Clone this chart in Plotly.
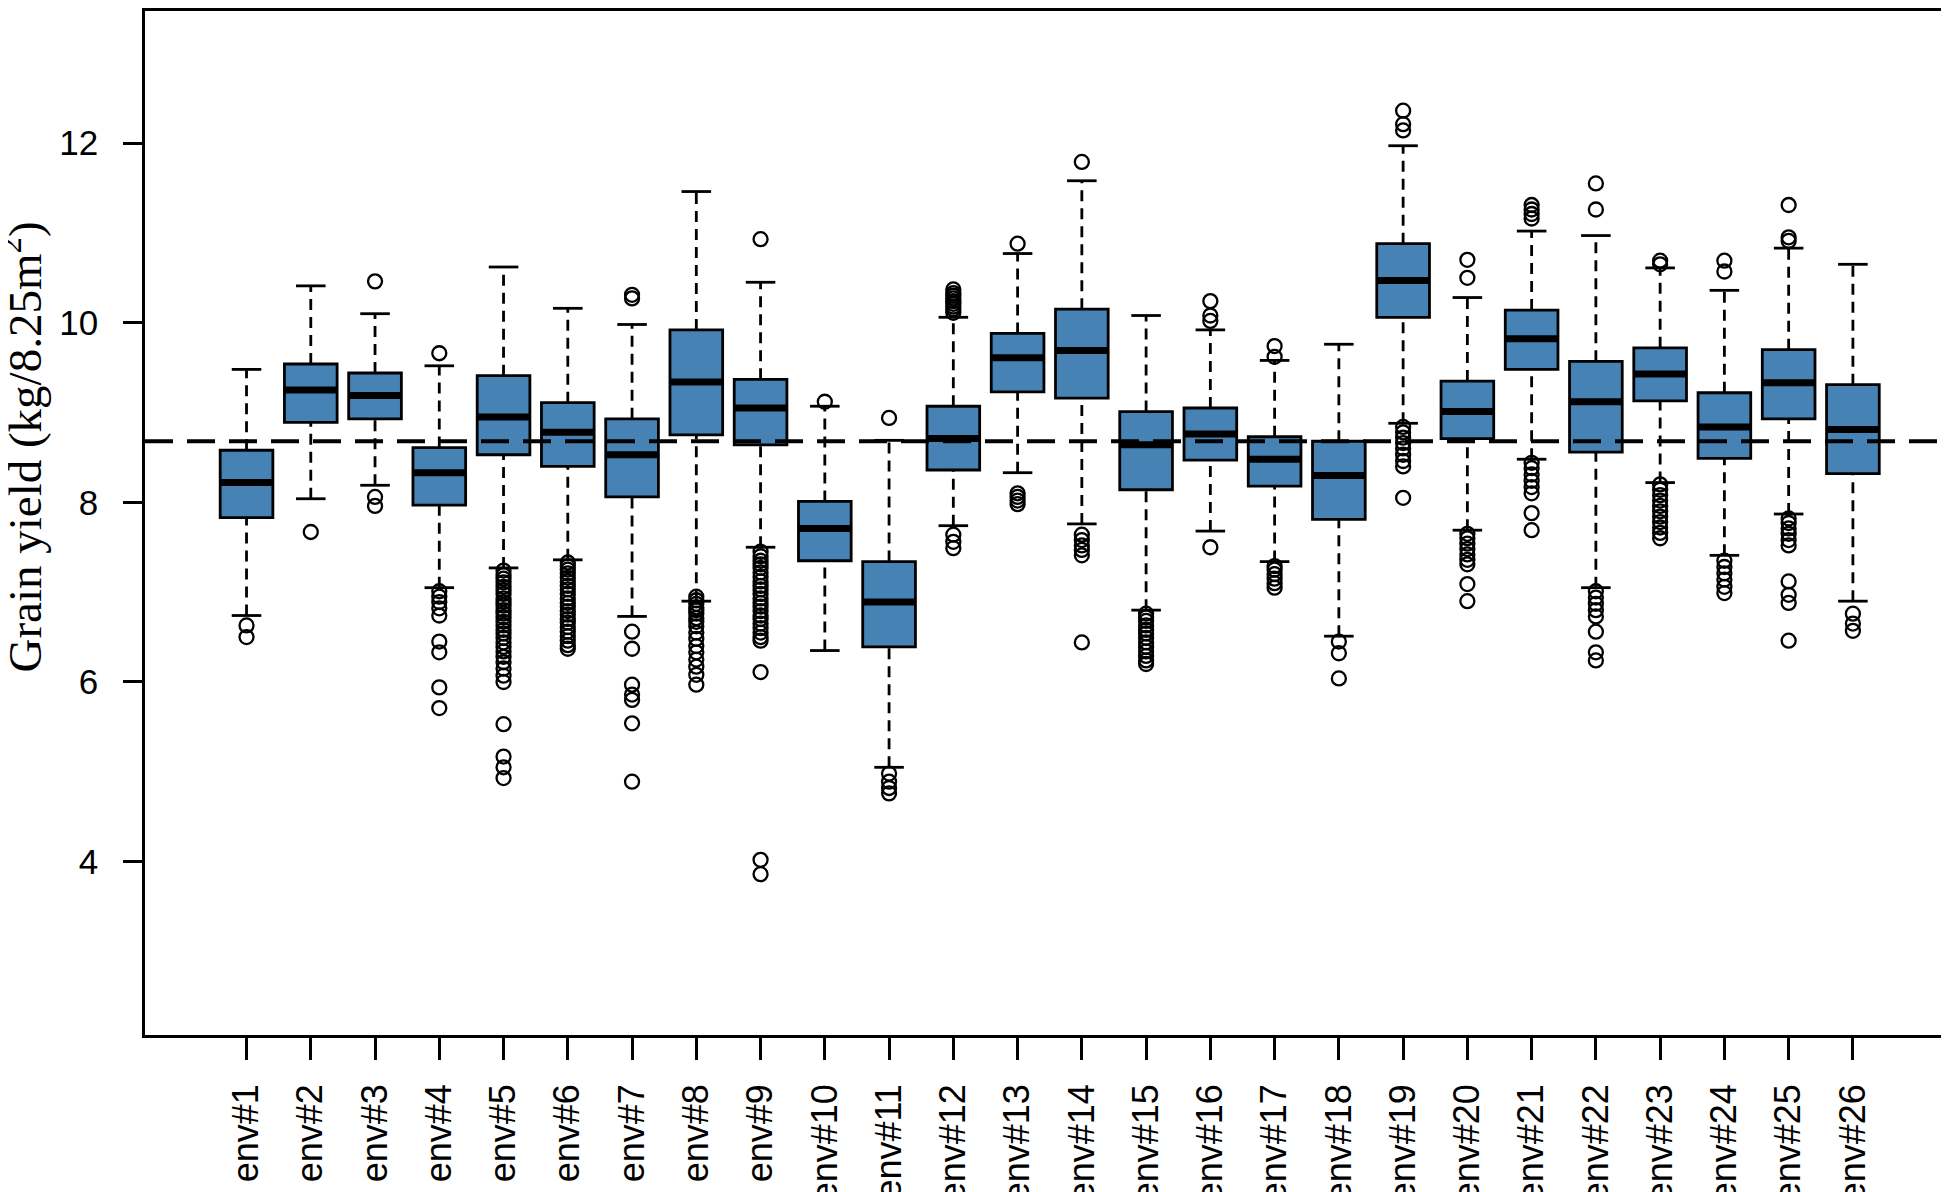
import plotly.graph_objects as go

# environments and box statistics (kg/8.25m2)
envs = [f"env#{i}" for i in range(1, 27)]
pos = list(range(1, 27))

q1 = [7.83, 8.89, 8.93, 7.97, 8.53, 8.40, 8.06, 8.75, 8.64, 7.35, 6.39, 8.36, 9.23,
      9.16, 8.14, 8.47, 8.18, 7.81, 10.06, 8.71, 9.48, 8.56, 9.13, 8.49, 8.93, 8.32]
med = [8.22, 9.25, 9.19, 8.33, 8.95, 8.78, 8.53, 9.34, 9.05, 7.71, 6.89, 8.71, 9.61,
       9.69, 8.64, 8.76, 8.48, 8.30, 10.47, 9.01, 9.82, 9.12, 9.43, 8.84, 9.33, 8.81]
q3 = [8.58, 9.54, 9.44, 8.61, 9.41, 9.11, 8.93, 9.92, 9.37, 8.01, 7.34, 9.07, 9.88,
      10.15, 9.01, 9.05, 8.73, 8.68, 10.88, 9.35, 10.14, 9.57, 9.72, 9.22, 9.70, 9.31]
lo = [6.74, 8.04, 8.19, 7.05, 7.27, 7.36, 6.73, 6.90, 7.50, 6.35, 5.05, 7.74, 8.33,
      7.76, 6.80, 7.68, 7.34, 6.51, 8.88, 7.69, 8.48, 7.05, 8.22, 7.41, 7.87, 6.90]
hi = [9.48, 10.41, 10.10, 9.52, 10.62, 10.16, 9.98, 11.46, 10.45, 9.07, 8.69, 10.06, 10.77,
      11.58, 10.08, 9.92, 9.58, 9.76, 11.97, 10.28, 11.02, 10.97, 10.61, 10.36, 10.83, 10.65]

outliers = [
    [6.63, 6.50],
    [7.67],
    [10.46, 8.06, 7.96],
    [9.66, 7.01, 6.95, 6.89, 6.82, 6.74, 6.45, 6.33, 5.94, 5.71],
    [7.24, 7.19, 7.15, 7.11, 7.06, 7.02, 6.98, 6.93, 6.89, 6.85, 6.80, 6.76, 6.72, 6.67,
     6.63, 6.58, 6.54, 6.49, 6.44, 6.39, 6.34, 6.28, 6.22, 6.15, 6.07, 6.00, 5.53, 5.17,
     5.05, 4.93],
    [7.33, 7.29, 7.25, 7.21, 7.16, 7.12, 7.07, 7.03, 6.98, 6.93, 6.88, 6.84, 6.79, 6.75,
     6.70, 6.66, 6.61, 6.56, 6.51, 6.46, 6.41, 6.37],
    [10.31, 10.27, 6.56, 6.37, 5.97, 5.86, 5.80, 5.54, 4.89],
    [6.95, 6.91, 6.87, 6.83, 6.80, 6.76, 6.71, 6.67, 6.62, 6.55, 6.48, 6.40, 6.33, 6.25,
     6.17, 6.08, 5.97],
    [10.93, 7.45, 7.40, 7.35, 7.31, 7.27, 7.22, 7.17, 7.12, 7.07, 7.03, 6.98, 6.93, 6.88,
     6.84, 6.79, 6.74, 6.70, 6.65, 6.60, 6.55, 6.50, 6.46, 6.11, 4.02, 3.86],
    [9.12],
    [8.94, 4.98, 4.89, 4.82, 4.76],
    [10.37, 10.33, 10.30, 10.27, 10.24, 10.21, 10.18, 10.15, 10.11, 7.64, 7.56, 7.49],
    [10.88, 8.10, 8.06, 8.02, 7.98],
    [11.79, 7.64, 7.58, 7.52, 7.47, 7.41, 6.44],
    [6.76, 6.72, 6.68, 6.63, 6.58, 6.54, 6.49, 6.44, 6.39, 6.34, 6.29, 6.24, 6.20],
    [10.24, 10.08, 10.02, 7.50],
    [9.74, 9.62, 7.29, 7.25, 7.20, 7.15, 7.10, 7.05],
    [6.45, 6.32, 6.04],
    [12.36, 12.21, 12.14, 8.84, 8.78, 8.72, 8.66, 8.60, 8.53, 8.46, 8.40, 8.05],
    [10.70, 10.50, 7.65, 7.60, 7.54, 7.48, 7.42, 7.36, 7.31, 7.09, 6.90],
    [11.31, 11.26, 11.21, 11.16, 8.44, 8.38, 8.31, 8.24, 8.17, 8.10, 7.88, 7.69],
    [11.55, 11.26, 7.01, 6.94, 6.87, 6.80, 6.73, 6.56, 6.33, 6.24],
    [10.69, 10.65, 8.20, 8.14, 8.08, 8.02, 7.96, 7.90, 7.84, 7.78, 7.72, 7.66, 7.60],
    [10.69, 10.57, 7.35, 7.28, 7.21, 7.14, 7.06, 6.99],
    [11.31, 10.95, 10.91, 7.82, 7.77, 7.71, 7.65, 7.58, 7.52, 7.12, 6.97, 6.88, 6.46],
    [6.76, 6.65, 6.57],
]

grand_mean = 8.68

box_w = 0.82
cap_w = 0.46

fig = go.Figure()

# dashed whiskers (R style)
wx, wy = [], []
for p, a, b, c, d in zip(pos, lo, q1, q3, hi):
    wx += [p, p, None, p, p, None]
    wy += [a, b, None, c, d, None]
fig.add_trace(go.Scatter(x=wx, y=wy, mode="lines", line=dict(color="black", width=2.8, dash="11px,7px"),
                         hoverinfo="skip", showlegend=False))

# whisker caps
cx, cy = [], []
for p, a, d in zip(pos, lo, hi):
    cx += [p - cap_w / 2, p + cap_w / 2, None, p - cap_w / 2, p + cap_w / 2, None]
    cy += [a, a, None, d, d, None]
fig.add_trace(go.Scatter(x=cx, y=cy, mode="lines", line=dict(color="black", width=2.8),
                         hoverinfo="skip", showlegend=False))

# boxes
fig.add_trace(go.Box(
    x=pos, q1=q1, median=med, q3=q3, lowerfence=q1, upperfence=q3,
    width=box_w, whiskerwidth=0, fillcolor="#4682B4",
    line=dict(color="black", width=2.8), boxpoints=False, showlegend=False,
))

# thick medians
mx, my = [], []
for p, m in zip(pos, med):
    mx += [p - box_w / 2, p + box_w / 2, None]
    my += [m, m, None]
fig.add_trace(go.Scatter(x=mx, y=my, mode="lines", line=dict(color="black", width=7),
                         hoverinfo="skip", showlegend=False))

# outliers
ox, oy = [], []
for p, vals in zip(pos, outliers):
    ox += [p] * len(vals)
    oy += vals
fig.add_trace(go.Scatter(x=ox, y=oy, mode="markers",
                         marker=dict(symbol="circle-open", size=14, color="black", line=dict(width=2.3)),
                         hoverinfo="skip", showlegend=False))

fig.add_hline(y=grand_mean, line=dict(color="black", width=4, dash="28px,14px"))

fig.add_annotation(
    text="Grain yield (kg/8.25m<sup>2</sup>)", xref="paper", yref="y", x=0, y=8.61,
    xshift=-123, textangle=-90, showarrow=False, xanchor="center", yanchor="middle",
    font=dict(family="Liberation Serif, Times New Roman, serif", size=47, color="black"),
)

fig.update_xaxes(
    range=[-0.58, 27.48], tickvals=pos, ticktext=envs, tickangle=-90,
    ticks="outside", ticklen=22, tickwidth=2.5, tickcolor="black", ticklabelstandoff=10,
    showline=True, linewidth=2.5, linecolor="black", mirror=True,
    showgrid=False, zeroline=False, automargin=False,
    tickfont=dict(family="Liberation Sans, Arial, sans-serif", size=36, color="black"),
)
fig.update_yaxes(
    range=[2.07, 13.47], tickvals=[4, 6, 8, 10, 12],
    ticks="outside", ticklen=19, tickwidth=2.5, tickcolor="black", ticklabelstandoff=18,
    showline=True, linewidth=2.5, linecolor="black", mirror=True,
    showgrid=False, zeroline=False, automargin=False,
    tickfont=dict(family="Liberation Sans, Arial, sans-serif", size=35, color="black"),
)

fig.update_layout(
    width=1949, height=1192,
    margin=dict(l=137, r=9, t=3, b=165),
    plot_bgcolor="white", paper_bgcolor="white",
    showlegend=False,
)

fig.write_html("out.html")
